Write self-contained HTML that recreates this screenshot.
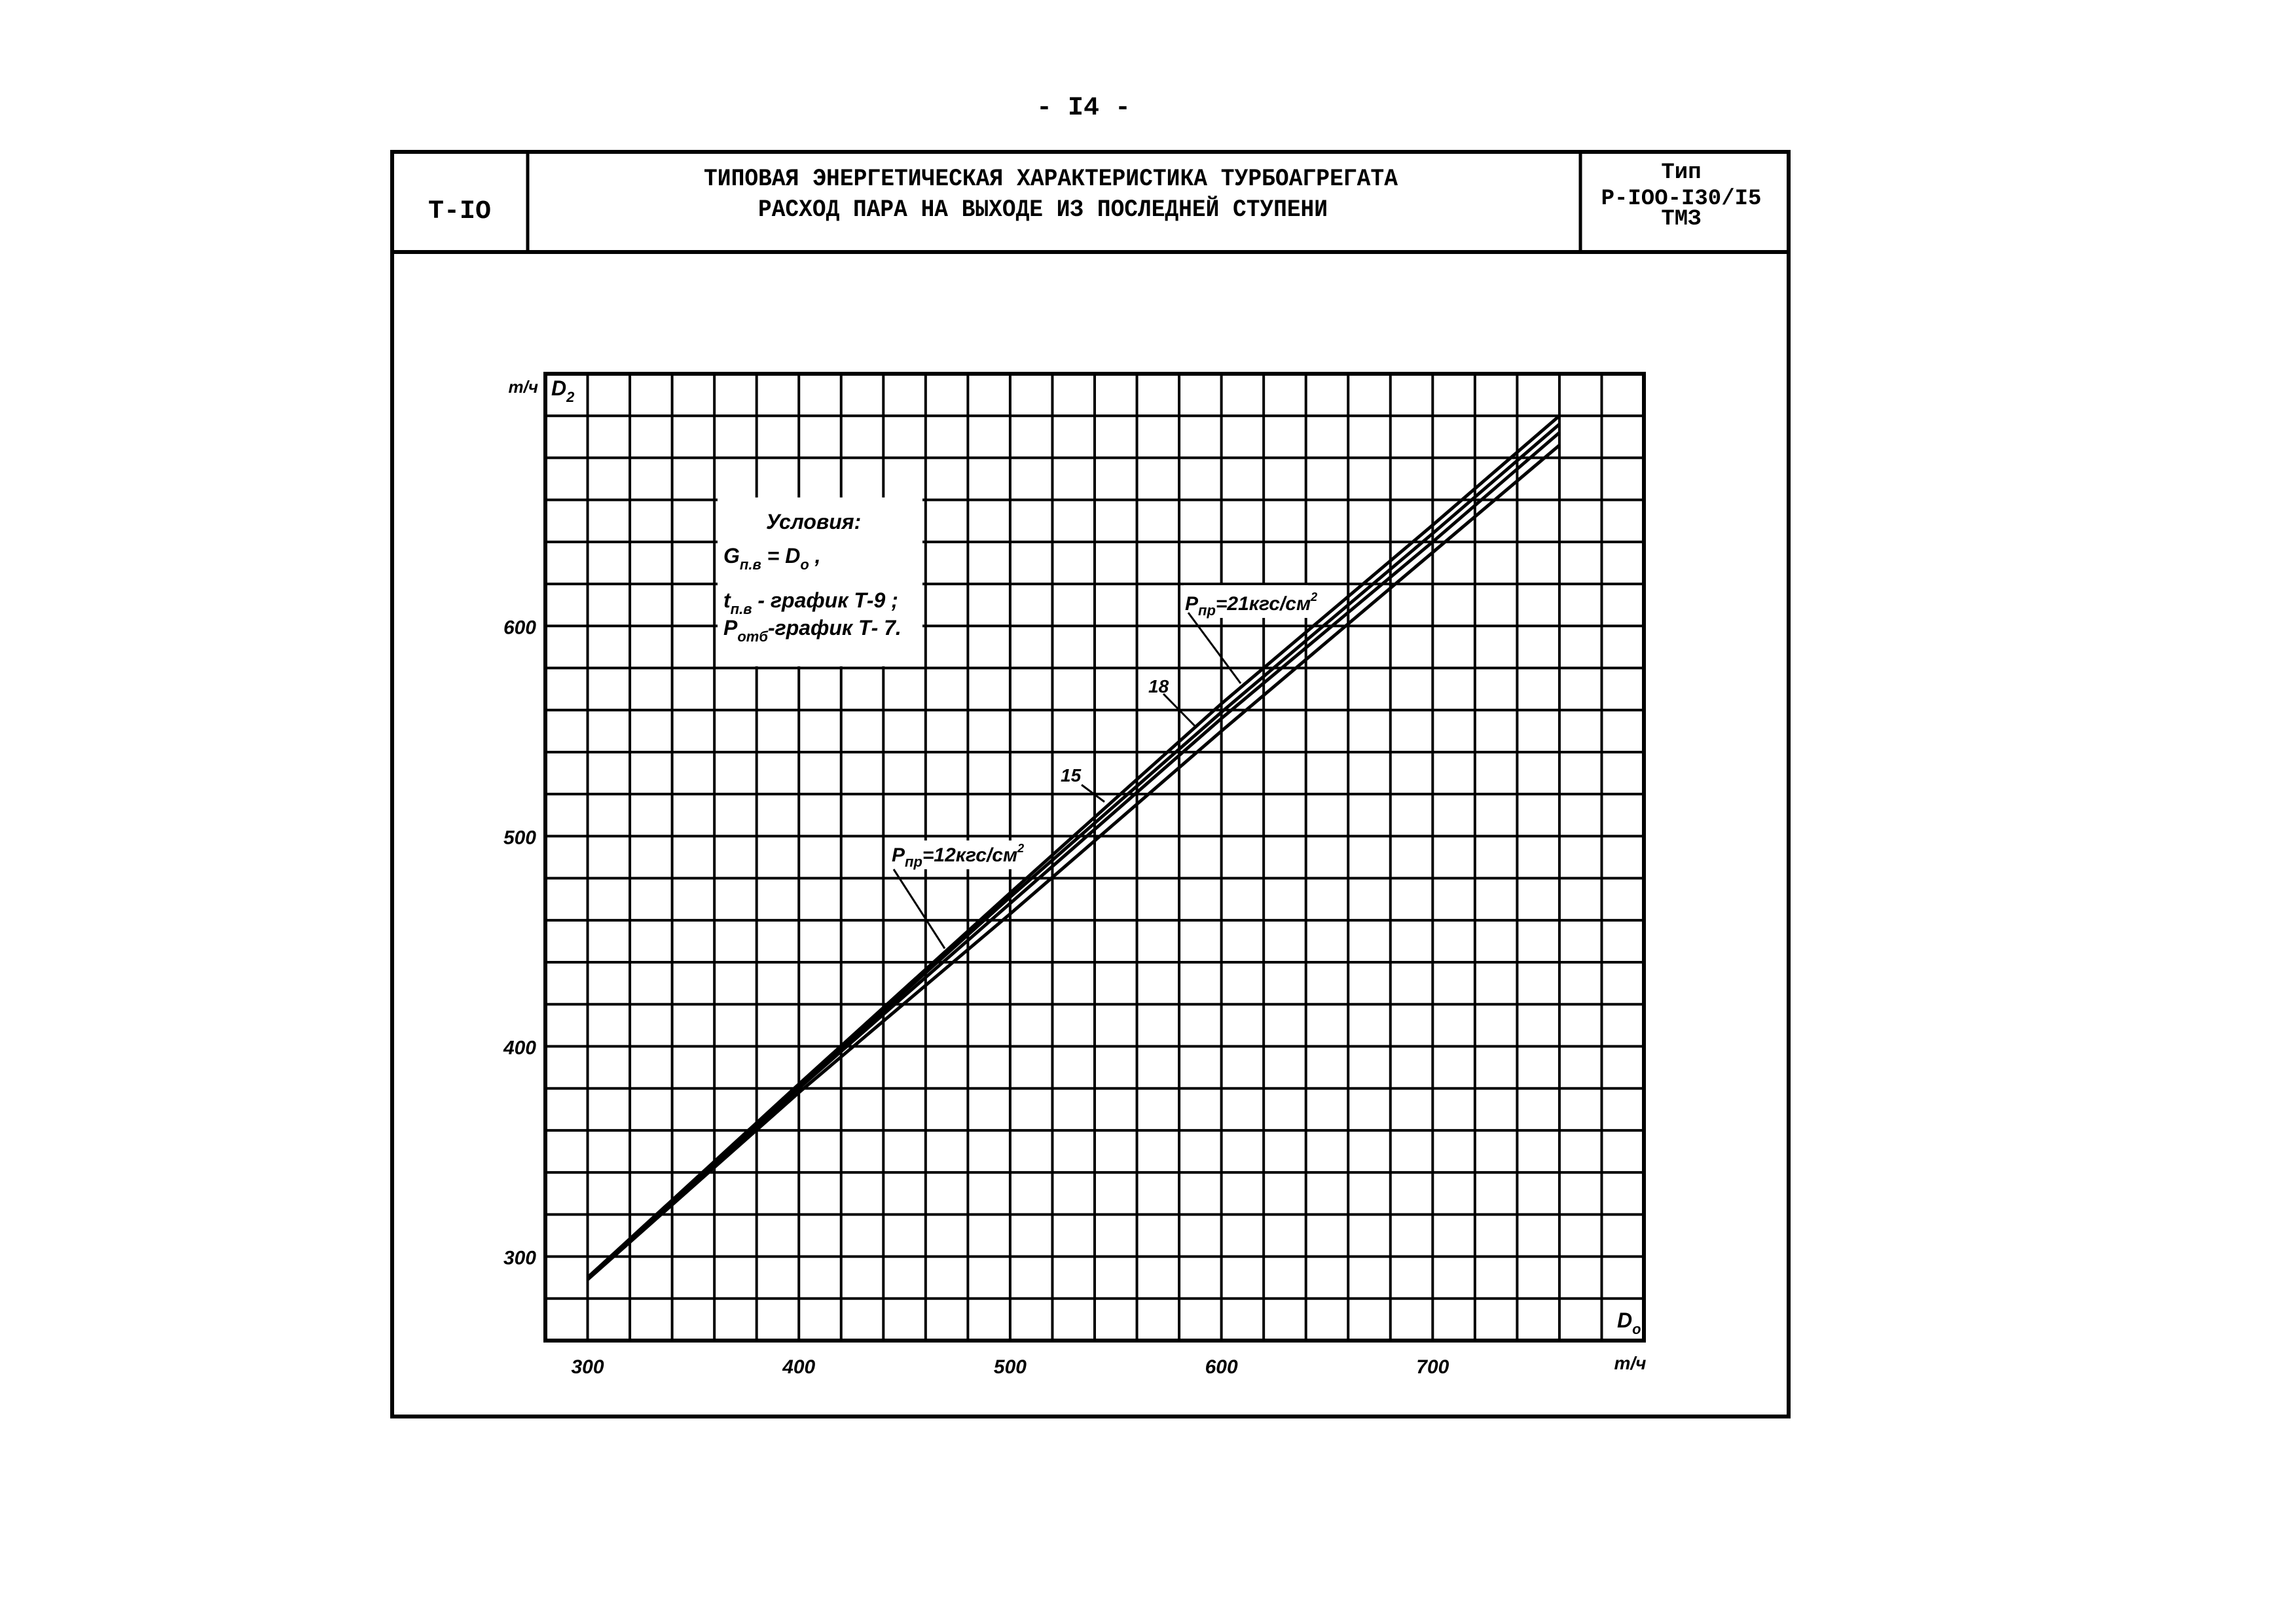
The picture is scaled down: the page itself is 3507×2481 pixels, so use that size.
<!DOCTYPE html>
<html><head><meta charset="utf-8"><style>
html,body{margin:0;padding:0;background:#fff;}
svg{display:block;}
.mono{font-family:"Liberation Mono","DejaVu Sans Mono",monospace;font-weight:bold;fill:#000;}
.hand{font-family:"Liberation Sans","DejaVu Sans",sans-serif;font-style:italic;font-weight:bold;fill:#000;}
</style></head><body>
<svg id="page" width="3507" height="2481" viewBox="0 0 3507 2481" xmlns="http://www.w3.org/2000/svg">
<rect x="0" y="0" width="3507" height="2481" fill="#fff"/>
<text class="mono" x="1655" y="175" font-size="40" text-anchor="middle">- I4 -</text>
<g stroke="#000" fill="none">
<rect x="599" y="232" width="2133" height="1932" stroke-width="6"/>
<line x1="599" y1="385" x2="2732" y2="385" stroke-width="6"/>
<line x1="806" y1="232" x2="806" y2="385" stroke-width="5"/>
<line x1="2414" y1="232" x2="2414" y2="385" stroke-width="5"/>
</g>
<text class="mono" x="702" y="333" font-size="40" text-anchor="middle">T-IO</text>
<text class="mono" x="1605" y="283" font-size="37" text-anchor="middle" textLength="1060" lengthAdjust="spacingAndGlyphs">ТИПОВАЯ ЭНЕРГЕТИЧЕСКАЯ ХАРАКТЕРИСТИКА ТУРБОАГРЕГАТА</text>
<text class="mono" x="1593" y="330" font-size="37" text-anchor="middle" textLength="870" lengthAdjust="spacingAndGlyphs">РАСХОД ПАРА НА ВЫХОДЕ ИЗ ПОСЛЕДНЕЙ СТУПЕНИ</text>
<text class="mono" x="2568" y="272" font-size="34" text-anchor="middle">Тип</text>
<text class="mono" x="2568" y="312" font-size="34" text-anchor="middle">P-IOO-I30/I5</text>
<text class="mono" x="2568" y="343" font-size="34" text-anchor="middle">ТМЗ</text>
<g id="chart"></g>
</svg>
<script>
const xTicks=[300,400,500,600,700];
const yTicks=[300,400,500,600];
const seriesX=[300,400,500,600,700,760];
const seriesP21=[290,382,473,563,648,700];
const seriesP18=[290,381,471,559,644,696];
const seriesP15=[290,380,468,556,640,692];
const seriesP12=[289,378,463,550,635,686];
const seriesNames=['p-21','p-18','p-15','p-12'];
const xMin=280,xMax=800,yMin=260,yMax=720,gridStep=20;
const L=833,R=2511,T=571,B=2048;
function sx(v){return L+(v-xMin)/(xMax-xMin)*(R-L);}
function sy(v){return B-(v-yMin)/(yMax-yMin)*(B-T);}
const NS='http://www.w3.org/2000/svg';
const g=document.getElementById('chart');
function mk(tag,attrs,parent){const e=document.createElementNS(NS,tag);for(const k in attrs)e.setAttribute(k,attrs[k]);(parent||g).appendChild(e);return e;}
// grid
const grid=mk('g',{stroke:'#000','stroke-width':4});


for(let v=xMin+gridStep;v<xMax;v+=gridStep){const l=mk('line',{x1:sx(v),y1:T,x2:sx(v),y2:B},grid);}
for(let v=yMin+gridStep;v<yMax;v+=gridStep){const l=mk('line',{x1:L,y1:sy(v),x2:R,y2:sy(v)},grid);}
const frame=mk('rect',{x:L,y:T,width:R-L,height:B-T,fill:'none',stroke:'#000','stroke-width':6});


// tick labels
xTicks.forEach(v=>{const t=mk('text',{x:sx(v),y:B+50,'font-size':30,'text-anchor':'middle',class:'hand'});t.textContent=v;});
yTicks.forEach(v=>{const t=mk('text',{x:L-14,y:sy(v)+12,'font-size':30,'text-anchor':'end',class:'hand'});t.textContent=v;});
// curves
[seriesP21,seriesP18,seriesP15,seriesP12].forEach((s,i)=>{const d=s.map((y,j)=>(j?'L':'M')+sx(seriesX[j])+' '+sy(y)).join(' ');const p=mk('path',{d:d,fill:'none',stroke:'#000','stroke-width':5,'stroke-linejoin':'round'});});
</script>
<svg style="position:absolute;left:0;top:0" width="3507" height="2481" viewBox="0 0 3507 2481">
<g>
<rect x="1096" y="760" width="313" height="258" fill="#fff"/>
<text class="hand" x="1170" y="808" font-size="32">Условия:</text>
<text class="hand" x="1105" y="860" font-size="32">G<tspan font-size="22" dy="10">п.в</tspan><tspan dy="-10"> = D</tspan><tspan font-size="22" dy="10">o</tspan><tspan dy="-10"> ,</tspan></text>
<text class="hand" x="1105" y="928" font-size="32">t<tspan font-size="22" dy="10">п.в</tspan><tspan dy="-10"> - график Т-9 ;</tspan></text>
<text class="hand" x="1105" y="970" font-size="32">P<tspan font-size="22" dy="10">отб</tspan><tspan dy="-10">-график Т- 7.</tspan></text>
</g>
<text class="hand" x="822" y="600" font-size="26" text-anchor="end">т/ч</text>
<text class="hand" x="842" y="604" font-size="32">D<tspan font-size="22" dy="10">2</tspan></text>
<text class="hand" x="2470" y="2028" font-size="32">D<tspan font-size="22" dy="10">o</tspan></text>
<text class="hand" x="2490" y="2092" font-size="28" text-anchor="middle">т/ч</text>
<g>
<rect x="1808" y="894" width="190" height="50" fill="#fff"/>
<text class="hand" x="1810" y="932" font-size="30">P<tspan font-size="22" dy="8">пр</tspan><tspan dy="-8">=21кгс/см</tspan><tspan font-size="18" dy="-14">2</tspan></text>
<line x1="1815" y1="936" x2="1895" y2="1044" stroke="#000" stroke-width="3"/>
</g>
<g>
<rect x="1752" y="1034" width="30" height="28" fill="#fff"/>
<text class="hand" x="1754" y="1058" font-size="28">18</text>
<line x1="1777" y1="1060" x2="1826" y2="1110" stroke="#000" stroke-width="3"/>
</g>
<g>
<rect x="1618" y="1170" width="32" height="28" fill="#fff"/>
<text class="hand" x="1620" y="1194" font-size="28">15</text>
<line x1="1652" y1="1199" x2="1687" y2="1225" stroke="#000" stroke-width="3"/>
</g>
<g>
<rect x="1360" y="1284" width="190" height="44" fill="#fff"/>
<text class="hand" x="1362" y="1316" font-size="30">P<tspan font-size="22" dy="8">пр</tspan><tspan dy="-8">=12кгс/см</tspan><tspan font-size="18" dy="-14">2</tspan></text>
<line x1="1365" y1="1328" x2="1443" y2="1449" stroke="#000" stroke-width="3"/>
</g>
</svg>
</body></html>
